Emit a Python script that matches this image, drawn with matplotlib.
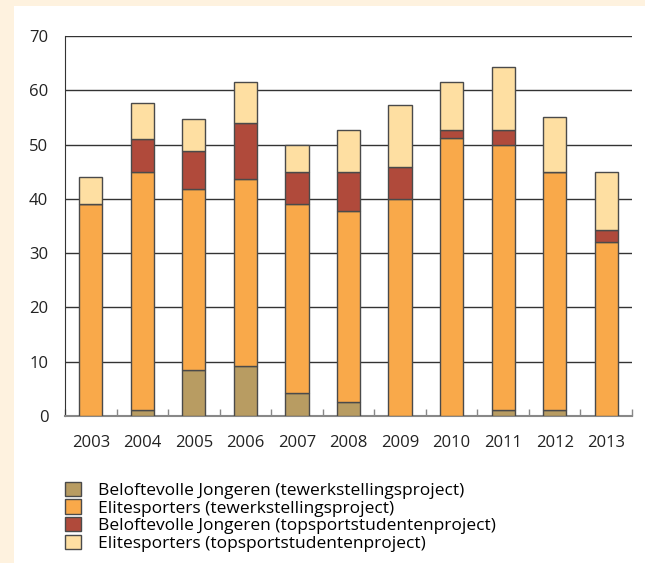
import numpy as np
import matplotlib.pyplot as plt
from matplotlib.patches import Rectangle

plt.rcParams['font.family'] = ['Open Sans', 'DejaVu Sans']

years = ['2003', '2004', '2005', '2006', '2007', '2008', '2009', '2010', '2011', '2012', '2013']
bj_tewerk = [0, 1.1, 8.4, 9.3, 4.2, 2.5, 0, 0, 1.1, 1.1, 0]
elite_tewerk = [39, 43.9, 33.5, 34.4, 34.8, 35.3, 40, 51.2, 48.9, 43.9, 32]
bj_topsport = [0, 6, 7, 10.2, 5.9, 7.1, 5.9, 1.5, 2.7, 0, 2.2]
elite_topsport = [5, 6.7, 5.9, 7.7, 5.1, 7.8, 11.3, 8.9, 11.5, 10, 10.8]

labels = ['Beloftevolle Jongeren (tewerkstellingsproject)',
          'Elitesporters (tewerkstellingsproject)',
          'Beloftevolle Jongeren (topsportstudentenproject)',
          'Elitesporters (topsportstudentenproject)']
colors = ['#b89c62', '#f9a94a', '#b04a3b', '#fedfa2']

fig = plt.figure(figsize=(6.45, 5.63), dpi=100, facecolor='#fef2df')
# white panel over the cream background
fig.patches.append(Rectangle((14 / 645, 0), 1, 1 - 6 / 563, transform=fig.transFigure,
                             facecolor='white', edgecolor='none', zorder=-5))
ax = fig.add_axes([65 / 645, 1 - 416 / 563, 567 / 645, 380 / 563])

x = np.arange(len(years))
bottom = np.zeros(len(years))
for vals, c, lab in zip([bj_tewerk, elite_tewerk, bj_topsport, elite_topsport], colors, labels):
    v = np.array(vals)
    ax.bar(x, v, 0.45, bottom=bottom, color=c, edgecolor='#4a4a4a', linewidth=1, label=lab, zorder=3)
    bottom += v

ax.set_xlim(-0.5, len(years) - 0.5)
ax.set_ylim(0, 70)
ax.set_yticks(range(0, 71, 10))
ax.yaxis.grid(True, color='#333333', linewidth=1)
ax.set_axisbelow(True)
for s in ['top', 'right']:
    ax.spines[s].set_visible(False)
ax.spines['left'].set_color('#333333')
ax.spines['bottom'].set_color('#888888')
ax.spines['bottom'].set_linewidth(1.5)
ax.set_facecolor('white')

# separator ticks between years, labels centred under bars
ax.set_xticks(np.arange(len(years) + 1) - 0.5)
ax.set_xticklabels([])
ax.tick_params(axis='x', which='major', direction='in', length=5, color='#888888', width=1)
ax.set_xticks(x, minor=True)
ax.set_xticklabels(years, minor=True)
ax.tick_params(axis='x', which='minor', length=0, pad=14, labelsize=12, labelcolor='#222222')
ax.tick_params(axis='y', length=0, pad=12, labelsize=12, labelcolor='#222222')

fig.legend(loc='upper left', bbox_to_anchor=(58 / 645, 1 - 475 / 563), frameon=False,
           fontsize=12.5, handlelength=0.9, handleheight=0.9, handletextpad=1.0,
           labelspacing=0.02, borderaxespad=0)

fig.savefig('out.png', dpi=100, facecolor=fig.get_facecolor())
